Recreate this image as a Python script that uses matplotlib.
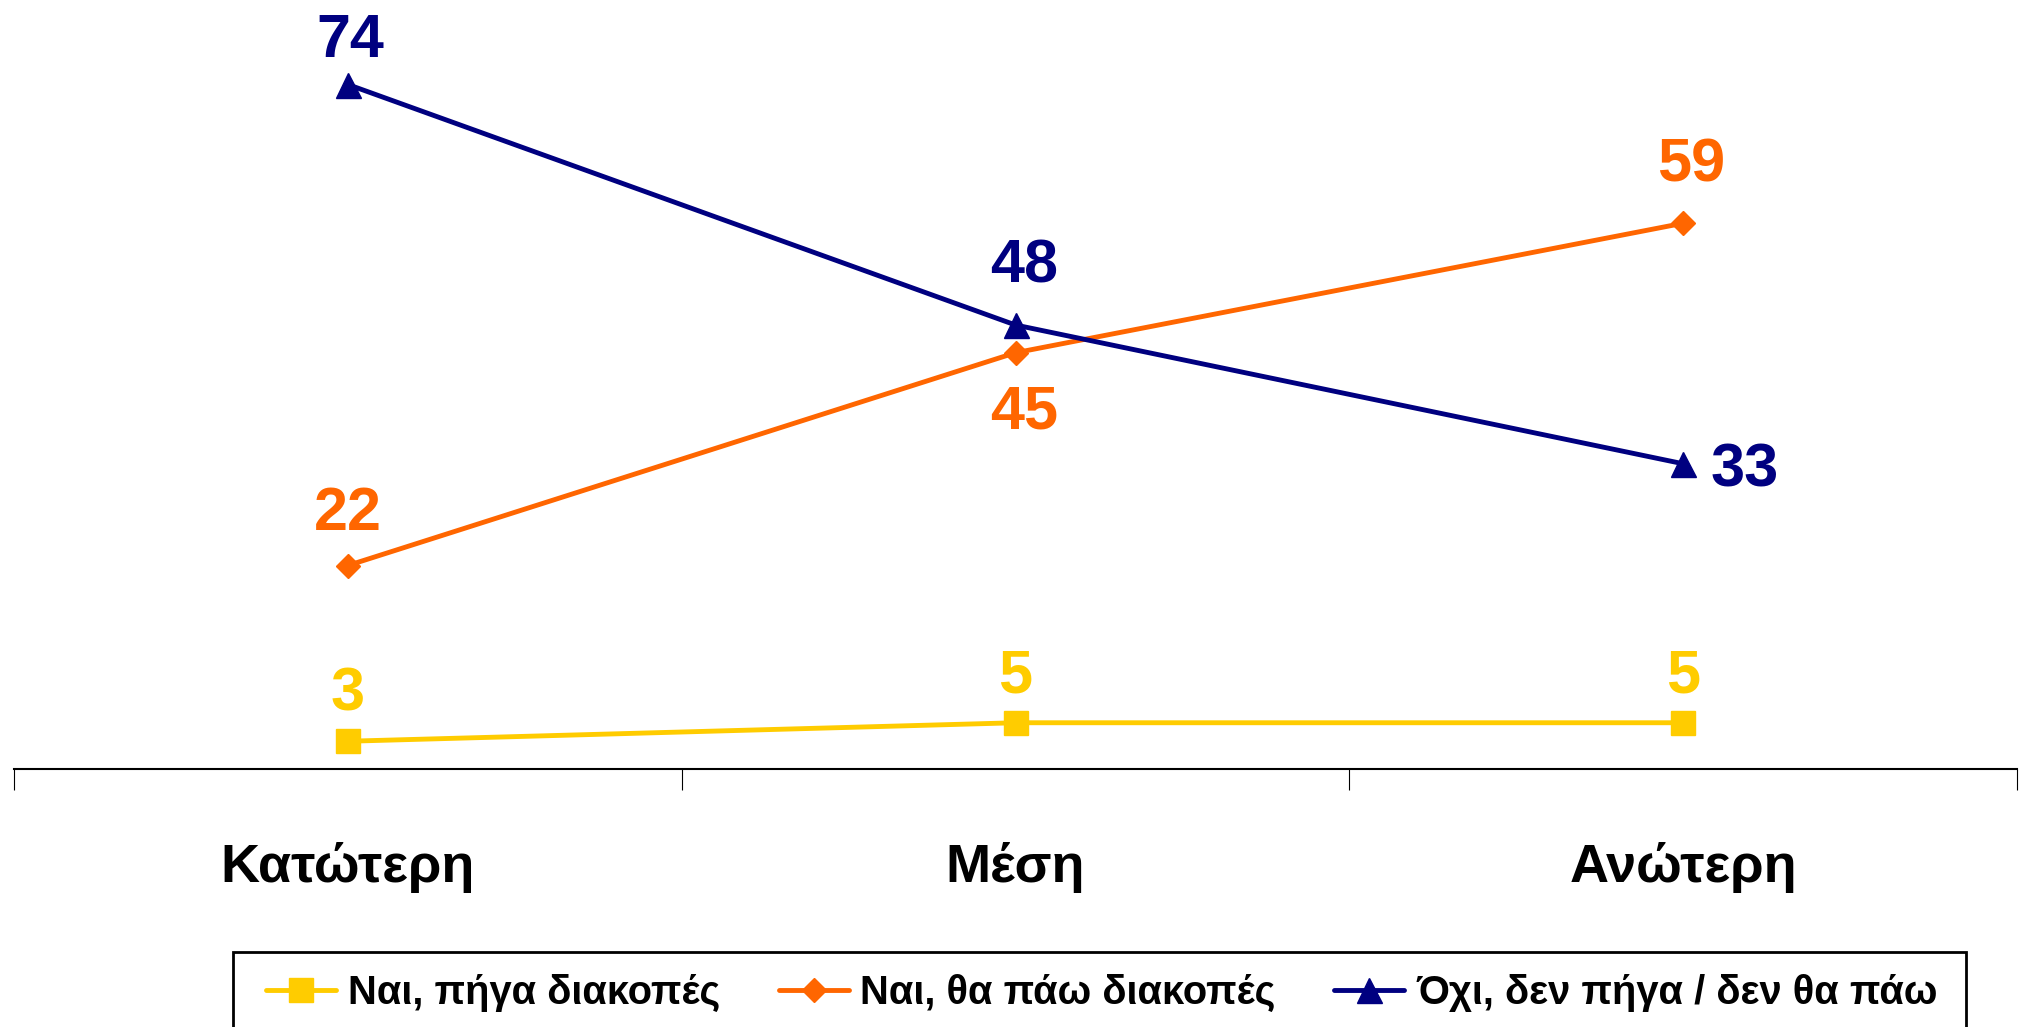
import matplotlib
matplotlib.use("Agg")
import matplotlib.pyplot as plt
from matplotlib import font_manager
from matplotlib.patches import Rectangle

categories = ["Κατώτερη", "Μέση", "Ανώτερη"]
series_names = ["Ναι, πήγα διακοπές", "Ναι, θα πάω διακοπές", "Όχι, δεν πήγα / δεν θα πάω"]
went = [3, 5, 5]
will_go = [22, 45, 59]
not_go = [74, 48, 33]

names = {f.name for f in font_manager.fontManager.ttflist}
if "Liberation Sans Narrow" in names:
    FONT = ["Liberation Sans Narrow", "DejaVu Sans"]
    scale = 1.0
    leg_scale = 1.0
else:
    FONT = ["Liberation Sans", "DejaVu Sans"]
    scale = 0.88
    leg_scale = 0.845
plt.rcParams["font.family"] = FONT
plt.rcParams["font.weight"] = "bold"

W, H = 2025, 1027
fig = plt.figure(figsize=(W / 100, H / 100), dpi=100)
ax = fig.add_axes([14 / W, 1 - 769 / H, (2017 - 14) / W, 740 / H])

x = list(range(len(categories)))
colors = ["#FFCC00", "#FF6600", "#000080"]
markers = [("s", 17), ("D", 12.5), ("^", 18)]
all_vals = [went, will_go, not_go]
for vals, col, (mk, ms), name in zip(all_vals, colors, markers, series_names):
    ax.plot(x, vals, color=col, lw=3.5, marker=mk, ms=ms, mec=col, mfc=col,
            label=name, clip_on=False, solid_capstyle="round")

# label offsets in points (dx, dy, ha)
offsets = [
    [(0, 33, "center"), (0, 33, "center"), (0, 33, "center")],
    [(0, 37, "center"), (6, -43.5, "center"), (6, 41, "center")],
    [(2, 31, "center"), (6, 41.5, "center"), (20, -5.5, "left")],
]
lab_size = 50 * scale
for vals, col, offs in zip(all_vals, colors, offsets):
    for i, (v, (dx, dy, ha)) in enumerate(zip(vals, offs)):
        ax.annotate(str(v), (i, v), xytext=(dx, dy), textcoords="offset points",
                    ha=ha, va="center", color=col, fontsize=lab_size, fontweight="bold")

ax.set_xlim(-0.5, len(categories) - 0.5)
ax.set_ylim(0, 80)
for s in ["top", "right", "left"]:
    ax.spines[s].set_visible(False)
ax.spines["bottom"].set_linewidth(1.5)
ax.set_yticks([])
ax.set_xticks([i - 0.5 for i in range(len(categories) + 1)])
ax.set_xticklabels([])
ax.tick_params(axis="x", direction="out", length=15, width=0.8, color="black")

for i, c in enumerate(categories):
    ax.annotate(c, xy=(i, 0), xycoords=("data", "axes fraction"), xytext=(0, -81.4),
                textcoords="offset points", ha="center", va="baseline",
                fontsize=39, fontweight="bold", color="black")

leg_size = 34 * leg_scale
leg = fig.legend(loc="center left", bbox_to_anchor=(266 / W, 1 - 993 / H), ncol=3,
                 frameon=False, borderaxespad=0, borderpad=0,
                 prop={"family": FONT, "weight": "bold", "size": leg_size},
                 handlelength=50.4 / leg_size, handletextpad=8.6 / leg_size,
                 columnspacing=42 / leg_size)
fig.patches.append(Rectangle((233 / W, -0.05), (1966 - 233) / W, (1 - 952 / H) + 0.05,
                             transform=fig.transFigure, fill=False, edgecolor="black",
                             linewidth=2, zorder=0))

fig.savefig("out.png", dpi=100)
